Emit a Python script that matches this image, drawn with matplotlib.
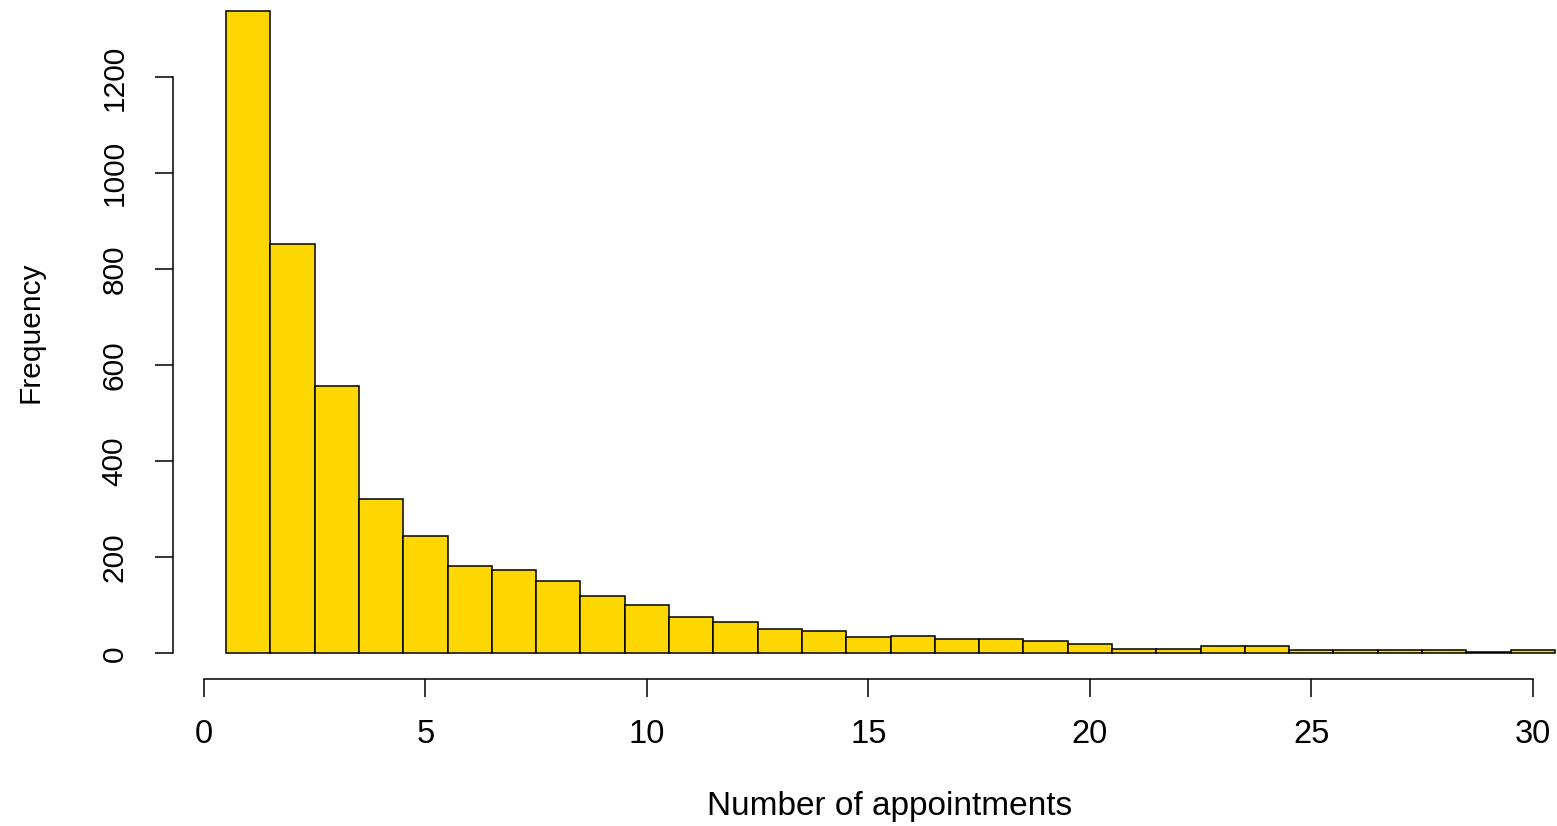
import numpy as np
import matplotlib
matplotlib.use("Agg")
import matplotlib.pyplot as plt

plt.rcParams['font.family'] = ['Liberation Sans', 'DejaVu Sans']

# appointments per patient (1..30) and their counts
appointments = np.arange(1, 31)
counts = [1339, 852, 557, 321, 244, 181, 174, 150, 119, 100,
          76, 65, 50, 46, 34, 37, 30, 30, 26, 19,
          9, 9, 15, 15, 6, 6, 6, 6, 3, 6]
x_ticks = [0, 5, 10, 15, 20, 25, 30]
y_ticks = [0, 200, 400, 600, 800, 1000, 1200]

W, H = 1557, 826
fig = plt.figure(figsize=(W / 100, H / 100), dpi=100)
# plot region reaches past the right and top edges, like the cropped R plot
left, right, top, bottom = 173, 1608, -15, 679
ax = fig.add_axes([left / W, 1 - bottom / H, (right - left) / W, (bottom - top) / H])

ax.bar(appointments, counts, width=1.0, color='#FFD700',
       edgecolor='black', linewidth=1.1)

ax.set_xlim(-0.7, 31.7)
ax.set_ylim(-0.04 * max(counts), 1.04 * max(counts))

for s in ['top', 'right']:
    ax.spines[s].set_visible(False)
ax.spines['bottom'].set_bounds(0, 30)
ax.spines['left'].set_bounds(0, 1200)
for s in ['bottom', 'left']:
    ax.spines[s].set_linewidth(1.1)

ax.set_xticks(x_ticks)
ax.set_yticks(y_ticks)
ax.set_yticklabels([str(v) for v in y_ticks], rotation=90, va='center')
ax.tick_params(axis='both', length=13, width=1.1)
ax.tick_params(axis='x', pad=16, labelsize=23.5)
ax.tick_params(axis='y', pad=19, labelsize=21.5)

# x label placed directly (R's mtext line 3)
fig.text(890 / W, 1 - 815 / H, 'Number of appointments', fontsize=24,
         ha='center', va='baseline')
ax.set_ylabel('Frequency', fontsize=21.5, labelpad=40)

fig.savefig('out.png', dpi=100)
